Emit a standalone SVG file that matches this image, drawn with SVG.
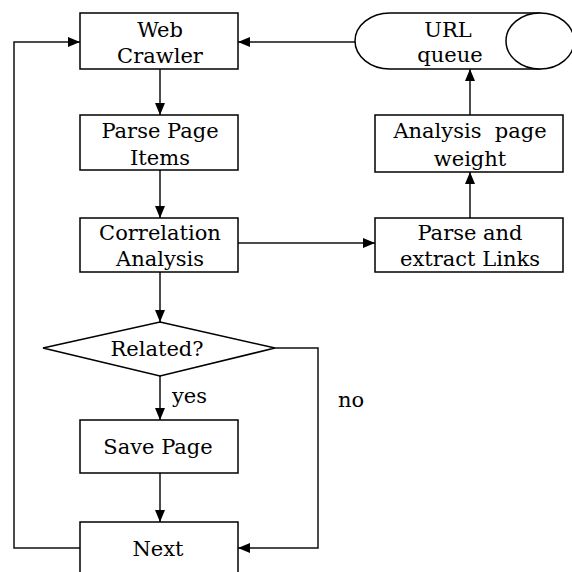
<svg xmlns="http://www.w3.org/2000/svg" width="572" height="572" viewBox="0 0 572 572">
<style>
.box{fill:#fff;stroke:#000;stroke-width:1.5}
.t{font-family:"DejaVu Serif","Liberation Serif",serif;font-size:21px;fill:#000;text-anchor:middle}
.s{text-anchor:start}
.c{fill:none;stroke:#111;stroke-width:1.5}
</style>
<defs>
<marker id="ah" viewBox="0 0 12 10" refX="12" refY="5" markerWidth="12" markerHeight="10" markerUnits="userSpaceOnUse" orient="auto">
<path d="M0,0 L12,5 L0,10 Z" fill="#000"/>
</marker>
</defs>
<rect width="572" height="572" fill="#fff"/>
<g id="connectors">
<line class="c" x1="160" y1="69" x2="160" y2="115" marker-end="url(#ah)"/>
<line class="c" x1="160" y1="170" x2="160" y2="218" marker-end="url(#ah)"/>
<line class="c" x1="160" y1="272" x2="160" y2="322" marker-end="url(#ah)"/>
<line class="c" x1="160" y1="376" x2="160" y2="420" marker-end="url(#ah)"/>
<line class="c" x1="160" y1="473" x2="160" y2="522" marker-end="url(#ah)"/>
<line class="c" x1="238" y1="243" x2="375" y2="243" marker-end="url(#ah)"/>
<line class="c" x1="470" y1="218" x2="470" y2="172" marker-end="url(#ah)"/>
<line class="c" x1="470" y1="115" x2="470" y2="69" marker-end="url(#ah)"/>
<line class="c" x1="355" y1="42" x2="238" y2="42" marker-end="url(#ah)"/>
<polyline class="c" points="82,548 14,548 14,42 80,42" marker-end="url(#ah)"/>
<polyline class="c" points="275,348 318,348 318,548 238,548" marker-end="url(#ah)"/>
<text class="t s" x="172" y="403">yes</text>
<text class="t s" x="338" y="407">no</text>
</g>
<g id="web-crawler">
<rect class="box" x="80" y="13" width="158" height="56"/>
<text class="t" x="160" y="37">Web</text>
<text class="t" x="160" y="63">Crawler</text>
</g>
<g id="url-queue">
<path class="box" d="M390,13 L540,13 L540,69 L390,69 A35,28 0 0 1 390,13 Z"/>
<ellipse class="box" cx="540" cy="41" rx="34" ry="28"/>
<text class="t" x="448" y="37">URL</text>
<text class="t" x="450" y="62">queue</text>
</g>
<g id="parse-page-items">
<rect class="box" x="80" y="115" width="158" height="55"/>
<text class="t" x="160" y="138">Parse Page</text>
<text class="t" x="160" y="165">Items</text>
</g>
<g id="analysis-page-weight">
<rect class="box" x="375" y="115" width="188" height="57"/>
<text class="t" x="470" y="138" xml:space="preserve">Analysis  page</text>
<text class="t" x="470" y="166">weight</text>
</g>
<g id="correlation-analysis">
<rect class="box" x="80" y="218" width="158" height="54"/>
<text class="t" x="160" y="240">Correlation</text>
<text class="t" x="160" y="266">Analysis</text>
</g>
<g id="parse-extract-links">
<rect class="box" x="375" y="218" width="188" height="54"/>
<text class="t" x="470" y="240">Parse and</text>
<text class="t" x="470" y="266">extract Links</text>
</g>
<g id="related">
<polygon class="box" points="160,322 275,348 160,376 43,348"/>
<text class="t" x="157" y="356">Related?</text>
</g>
<g id="save-page">
<rect class="box" x="80" y="420" width="158" height="53"/>
<text class="t" x="158" y="454">Save Page</text>
</g>
<g id="next">
<rect class="box" x="80" y="522" width="158" height="60"/>
<text class="t" x="158" y="556">Next</text>
</g>
</svg>
